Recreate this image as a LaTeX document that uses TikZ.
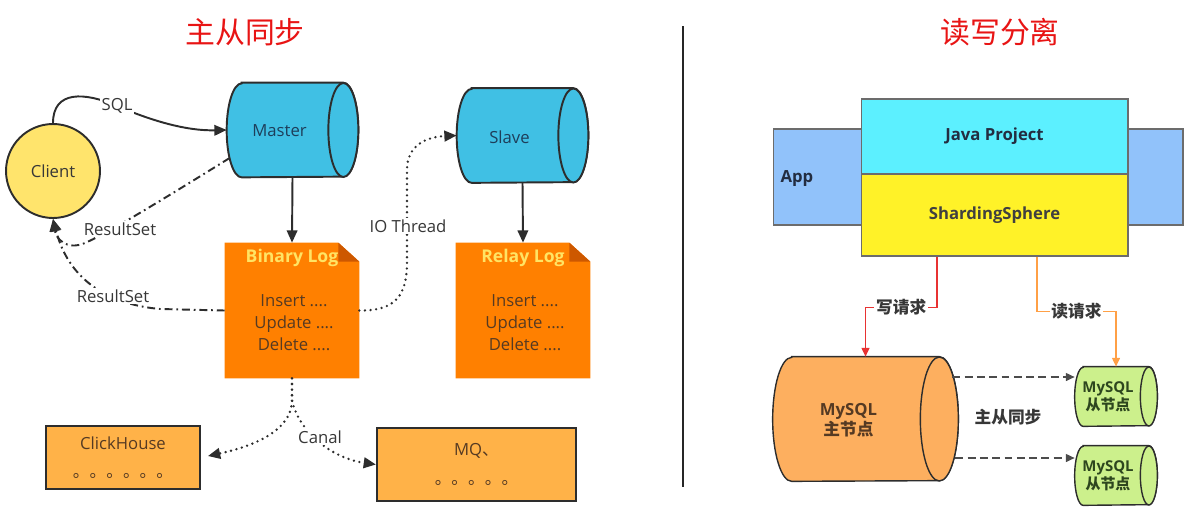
\documentclass[tikz,border=0pt]{standalone}
\usepackage{fontspec}
\setmainfont{Open Sans}
\newfontfamily\cjk{Noto Sans CJK SC}
\usetikzlibrary{arrows.meta,calc,positioning}

\definecolor{dbblue}{RGB}{64,192,228}
\definecolor{clientyellow}{RGB}{255,228,108}
\definecolor{logorange}{RGB}{255,128,0}
\definecolor{logfold}{RGB}{205,88,0}
\definecolor{logtitle}{RGB}{255,228,100}
\definecolor{logtext}{RGB}{85,58,35}
\definecolor{sinkorange}{RGB}{255,178,72}
\definecolor{appblue}{RGB}{145,194,250}
\definecolor{javacyan}{RGB}{92,240,255}
\definecolor{shardyellow}{RGB}{255,242,40}
\definecolor{mysqlorange}{RGB}{253,175,95}
\definecolor{slavegreen}{RGB}{204,240,140}
\definecolor{titlered}{RGB}{232,20,20}
\definecolor{writered}{RGB}{232,50,50}
\definecolor{readorange}{RGB}{255,160,70}
\definecolor{lineg}{RGB}{45,45,45}
\definecolor{txtgray}{RGB}{55,55,55}
\definecolor{dbtext}{RGB}{30,62,90}
\definecolor{navytext}{RGB}{35,45,65}
\definecolor{greentext}{RGB}{45,70,30}

\tikzset{
	title/.style={text=titlered,font=\cjk\fontsize{17}{17}\selectfont},
	lbl/.style={fill=white,inner sep=1pt,text=txtgray,font=\fontsize{9.5}{11}\selectfont},
	dbarea/.style={inner sep=0pt},
	dbtxt/.style={text=dbtext,align=center,font=\fontsize{9.5}{11}\selectfont},
	logbox/.style={minimum width=2.68cm,minimum height=2.7cm,inner sep=0pt},
	logtitle/.style={text=logtitle,font=\bfseries\fontsize{10}{12}\selectfont},
	logtext/.style={text=logtext,align=center,font=\fontsize{9.5}{12.5}\selectfont},
	sink/.style={draw=lineg,line width=1.2pt,fill=sinkorange,text=logtext,align=center,
		inner sep=0pt,font=\fontsize{9.5}{16}\selectfont},
	layer/.style={draw=lineg!70,line width=0.6pt,inner sep=0pt,text=navytext,
		font=\bfseries\fontsize{9.5}{11}\selectfont},
	conn/.style={draw=lineg,line width=1.1pt,-{Triangle[length=7pt,width=6pt]}},
	dashdot/.style={conn,dash pattern=on 4.5pt off 2.2pt on 1pt off 2.2pt},
	dots/.style={conn,line cap=round,line width=1.5pt,dash pattern=on 0pt off 3.2pt},
	req/.style={line width=0.8pt,-{Triangle[length=5pt,width=4.5pt]}},
	sync/.style={draw=lineg!85,line width=0.8pt,dash pattern=on 4.5pt off 2.5pt,
		-{Triangle[length=5pt,width=4.5pt]}}
}

\begin{document}
\begin{tikzpicture}[x=0.02cm,y=-0.02cm]
	\useasboundingbox (0,0) rectangle (1203,521);

	\node[title] (lefttitle) at (245,32) {主从同步};
	\node[title] (righttitle) at (1000,32) {读写分离};
	\draw[line width=0.7pt,black!85] (683,26) -- (683,487);

	% cylinders
	\node[dbarea,minimum width=2.62cm,minimum height=1.88cm] (master) at (292.5,130) {};
	\node[dbarea,minimum width=2.62cm,minimum height=1.88cm] (slave) at (522.5,135.5) {};
	\node[dbarea,minimum width=3.7cm,minimum height=2.48cm] (mysqlm) at (865.5,419) {};
	\node[dbarea,minimum width=1.64cm,minimum height=1.18cm] (slave1) at (1116,396.5) {};
	\node[dbarea,minimum width=1.64cm,minimum height=1.18cm] (slave2) at (1116,475.5) {};
	\foreach \n/\c/\rx/\ry/\lw in {master/dbblue/.3/.94/1.1, slave/dbblue/.3/.94/1.1,
			mysqlm/mysqlorange/.38/1.24/.8, slave1/slavegreen/.17/.59/.8, slave2/slavegreen/.17/.59/.8} {
		\filldraw[fill=\c,draw=lineg,line width=\lw pt] ($(\n.north west)+(\rx cm,0)$) -- ($(\n.north east)-(\rx cm,0)$)
			arc(90:-90:\rx cm and \ry cm) -- ($(\n.south west)+(\rx cm,0)$) arc(270:90:\rx cm and \ry cm) -- cycle;
		\filldraw[fill=\c,draw=lineg,line width=\lw pt] ($(\n.east)-(\rx cm,0)$) ellipse (\rx cm and \ry cm);
	}
	\node[dbtxt] (mastertxt) at ($(master.center)+(-13,1)$) {Master};
	\node[dbtxt] (slavetxt) at ($(slave.center)+(-13,1.5)$) {Slave};
	\node[dbtxt,text=logtext,font=\bfseries\fontsize{9.5}{11.5}\selectfont] (mysqlmtxt) at ($(mysqlm.center)+(-17,1)$) {MySQL\\\cjk 主节点};
	\node[dbtxt,text=greentext,font=\bfseries\fontsize{8.5}{10}\selectfont] (slave1txt) at ($(slave1.center)+(-8,0)$) {MySQL\\\cjk 从节点};
	\node[dbtxt,text=greentext,font=\bfseries\fontsize{8.5}{10}\selectfont] (slave2txt) at ($(slave2.center)+(-8,0)$) {MySQL\\\cjk 从节点};

	% master / slave
	\node[circle,draw=lineg,line width=1.1pt,fill=clientyellow,minimum size=1.88cm,inner sep=0pt,
		text=txtgray,font=\fontsize{9.5}{11}\selectfont] (client) at (53,171) {Client};

	\node[logbox] (binlog) at (292,310.5) {};
	\node[logbox] (relaylog) at (523,310.5) {};
	\foreach \lg/\name in {binlog/Binary Log,relaylog/Relay Log} {
		\fill[logorange] (\lg.north west) -- ($(\lg.north east)+(-21,0)$) -- ($(\lg.north east)+(0,19)$)
			-- (\lg.south east) -- (\lg.south west) -- cycle;
		\fill[logfold] ($(\lg.north east)+(-21,0)$) -- ($(\lg.north east)+(0,19)$) -- ($(\lg.north east)+(-21,19)$) -- cycle;
		\node[logtitle] (\lg title) at ($(\lg.north)+(0,15)$) {\name};
		\node[logtext] (\lg text) at ($(\lg.center)+(2,12)$) {Insert ....\\Update ....\\Delete ....};
	}

	\node[sink,minimum width=3.08cm,minimum height=1.26cm] (clickhouse) at (123,457.5) {ClickHouse\\\cjk 。。。。。。};
	\node[sink,minimum width=3.98cm,minimum height=1.46cm] (mq) at (476.5,464.5) {MQ\cjk 、\\\cjk 。。。。。};

	\draw[conn] (client.north) .. controls (53,90) and (85,92) .. (117,106) node[lbl] (sqllbl) {SQL}
		.. controls (150,120) and (185,131) .. (master.west);
	\draw[conn] (master.south) -- (binlog.north);
	\draw[conn] (slave.south) -- (relaylog.north);
	\draw[dashdot] ($(master.west)+(3,28)$) .. controls (170,195) and (110,232) .. (85,243)
		.. controls (66,251) and (56,238) .. (client.south);
	\draw[dashdot] (binlog.west) -- (160,309) .. controls (115,305) and (70,285) .. (client.south);
	\node[lbl] (rslbl) at (120,229) {ResultSet};
	\node[lbl] (rslbl2) at (113,296) {ResultSet};
	\draw[dots] (binlog.east) .. controls (396,311) and (407,295) .. (407,262) -- (407,170)
		.. controls (407,146) and (425,137) .. (slave.west);
	\node[lbl] (iolbl) at (408,226) {IO Thread};
	\draw[dots,shorten >=4pt] (binlog.south) -- (292,400) .. controls (292,432) and (250,447) .. (clickhouse.east);
	\draw[dots] (binlog.south) -- (292,400) .. controls (298,430) and (330,458) .. (mq.west);
	\node[lbl] (canallbl) at (320,437) {Canal};

	% read / write split
	\node[layer,fill=appblue,minimum width=8.2cm,minimum height=1.92cm] (app) at (978,177) {};
	\node[layer,anchor=west,draw=none,inner sep=0pt] (applbl) at (780,179) {App};
	\node[layer,fill=javacyan,minimum width=5.34cm,minimum height=1.5cm] (java) at (994.5,136.5) {Java Project};
	\node[layer,fill=shardyellow,minimum width=5.34cm,minimum height=1.64cm,text=black!75] (shard) at (994.5,215) {ShardingSphere};

	\draw[req,writered] ($(shard.south)+(-57.5,0)$) -- ++(0,51) -| node[lbl,pos=.25,font=\cjk\bfseries\fontsize{9.5}{11}\selectfont] (wlbl) {写请求} (mysqlm.north);
	\draw[req,readorange] ($(shard.south)+(42.5,0)$) -- ++(0,55) -| node[lbl,pos=.25,font=\cjk\bfseries\fontsize{9.5}{11}\selectfont] (rlbl) {读请求} (slave1.north);
	\draw[sync] ($(mysqlm.east)+(-6,-42)$) coordinate (s1) -- (s1 -| slave1.west);
	\draw[sync] ($(mysqlm.east)+(-3,39)$) coordinate (s2) -- (s2 -| slave2.west);
	\node[text=txtgray,font=\cjk\bfseries\fontsize{9.5}{11}\selectfont] (synclbl) at (1008,417) {主从同步};
\end{tikzpicture}
\end{document}
